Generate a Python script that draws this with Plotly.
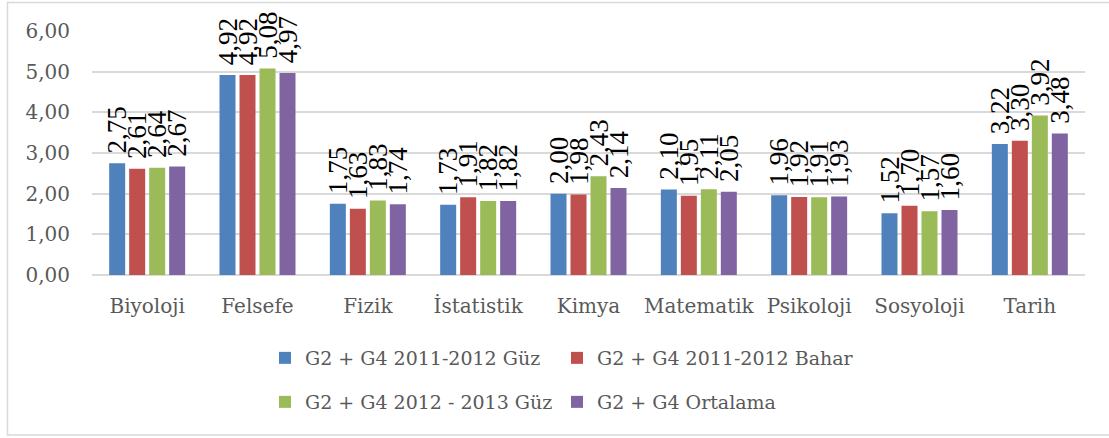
import plotly.graph_objects as go

categories = ["Biyoloji", "Felsefe", "Fizik", "İstatistik", "Kimya", "Matematik", "Psikoloji", "Sosyoloji", "Tarih"]
series_names = ["G2 + G4 2011-2012 Güz", "G2 + G4 2011-2012 Bahar", "G2 + G4 2012 - 2013 Güz", "G2 + G4 Ortalama"]
guz_2011 = [2.75, 4.92, 1.75, 1.73, 2.00, 2.10, 1.96, 1.52, 3.22]
bahar_2012 = [2.61, 4.92, 1.63, 1.91, 1.98, 1.95, 1.92, 1.70, 3.30]
guz_2012 = [2.64, 5.08, 1.83, 1.82, 2.43, 2.11, 1.91, 1.57, 3.92]
ortalama = [2.67, 4.97, 1.74, 1.82, 2.14, 2.05, 1.93, 1.60, 3.48]
colors = ["#4F81BD", "#C0504D", "#9BBB59", "#8064A2"]
y_ticks = [0, 1, 2, 3, 4, 5, 6]

FONT = "DejaVu Serif, serif"
LABEL_FONT = "Liberation Serif, serif"
W, H = 1109, 438
ML, MR, MT, MB = 92, 24, 31, 163
PW = W - ML - MR
PH = H - MT - MB

def px_x(p):
    return (p - ML) / PW

def px_y(p):
    return (H - MB - p) / PH

fig = go.Figure()
all_series = [guz_2011, bahar_2012, guz_2012, ortalama]
legend_ids = ["legend", "legend2", "legend3", "legend4"]
legend_pos = [(265, 358), (557, 358), (265, 402), (557, 402)]
label_font = dict(family=LABEL_FONT, size=27, color="#000000", weight="normal")
for name, vals, col, lg in zip(series_names, all_series, colors, legend_ids):
    fig.add_trace(go.Bar(
        x=categories, y=vals, name=name, showlegend=True,
        marker=dict(color=col, line=dict(width=0)),
        texttemplate="\u00a0%{y:.2f}", textposition="outside", textangle=-90,
        textfont=label_font, outsidetextfont=label_font,
        constraintext="none", cliponaxis=False,
        legend=lg,
    ))

legend_layout = {}
for lg, (lx, ly) in zip(legend_ids, legend_pos):
    legend_layout[lg] = dict(orientation="h", xanchor="left", yanchor="middle",
                             x=px_x(lx), y=px_y(ly), visible=True,
                             font=dict(family=FONT, size=19, color="#595959"),
                             bgcolor="rgba(0,0,0,0)")

fig.update_layout(
    width=W, height=H,
    margin=dict(l=ML, r=MR, t=MT, b=MB),
    paper_bgcolor="white", plot_bgcolor="white",
    separators=",.",
    showlegend=True,
    barmode="group", bargap=0.275, bargroupgap=0.2,
    font=dict(family=FONT, size=20, color="#595959"),
    xaxis=dict(showgrid=False, showline=False, ticks="", ticklabelstandoff=17,
               tickfont=dict(family=FONT, size=20, color="#595959")),
    yaxis=dict(range=[0, 6], tickvals=y_ticks, tickformat=".2f", showgrid=True,
               gridcolor="#D9D9D9", gridwidth=1.5, zeroline=True, zerolinecolor="#D9D9D9",
               zerolinewidth=1.5, showline=False, ticks="", ticklabelstandoff=21,
               tickfont=dict(family=FONT, size=20, color="#595959")),
    shapes=[dict(type="rect", xref="paper", yref="paper",
                 x0=px_x(7.5), x1=px_x(1113), y0=px_y(435), y1=px_y(2.5),
                 line=dict(color="#D9D9D9", width=1.5), fillcolor="rgba(0,0,0,0)", layer="below")],
    **legend_layout,
)

fig.write_html("out.html", config={"displayModeBar": False},
               post_script="document.body.style.margin='0';document.body.style.overflow='hidden';")
